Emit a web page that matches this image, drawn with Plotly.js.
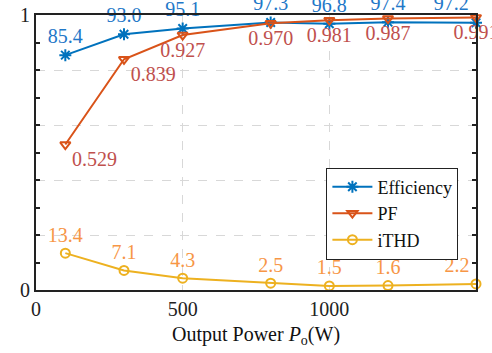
<!DOCTYPE html>
<html><head><meta charset="utf-8">
<script src="https://cdn.plot.ly/plotly-3.0.1.min.js"></script>
<style>html,body{margin:0;padding:0;background:#fff}#c{width:492px;height:353px}</style>
</head><body><div id="c"></div>
<script>
const power = [100, 300, 500, 800, 1000, 1200, 1500];
const efficiencyPct = [85.4, 93.0, 95.1, 97.3, 96.8, 97.4, 97.2];
const pf = [0.529, 0.839, 0.927, 0.970, 0.981, 0.987, 0.991];
const ithdPct = [13.4, 7.1, 4.3, 2.5, 1.5, 1.6, 2.2];
const seriesNames = ['Efficiency', 'PF', 'iTHD'];

const font = 'Liberation Serif';
const traces = [
  {x: power, y: efficiencyPct.map(v => v / 100), name: seriesNames[0], mode: 'lines+markers+text',
   text: efficiencyPct.map(v => v.toFixed(1)),
   textposition: ['top center','top center','top center','top center','top center','top center','top left'],
   textfont: {family: font, size: 20, color: '#1f78c8'},
   line: {color: '#0072BD', width: 2}, marker: {symbol: 'asterisk-open', size: 10, color: '#0072BD', line: {width: 2, color: '#0072BD'}},
   cliponaxis: false},
  {x: power, y: pf, name: seriesNames[1], mode: 'lines+markers+text',
   text: pf.map(v => v.toFixed(3)),
   textposition: ['bottom right','bottom right','bottom center','bottom center','bottom center','bottom center','bottom center'],
   textfont: {family: font, size: 20, color: '#C0504D'},
   line: {color: '#D95319', width: 2}, marker: {symbol: 'triangle-down-open', size: 9, color: '#D95319', line: {width: 2, color: '#D95319'}},
   cliponaxis: false},
  {x: power, y: ithdPct.map(v => v / 100), name: seriesNames[2], mode: 'lines+markers+text',
   text: ithdPct.map(v => v.toFixed(1)),
   textposition: ['top center','top center','top center','top center','top center','top center','top left'],
   textfont: {family: font, size: 20, color: '#F79646'},
   line: {color: '#EDB120', width: 2}, marker: {symbol: 'circle-open', size: 9, color: '#EDB120', line: {width: 2, color: '#EDB120'}},
   cliponaxis: false}
];
const layout = {
  width: 492, height: 353,
  margin: {l: 36, r: 16, t: 15, b: 63},
  paper_bgcolor: '#fff', plot_bgcolor: '#fff',
  font: {family: font, size: 20, color: '#222'},
  showlegend: true,
  legend: {x: 0.96, xanchor: 'right', y: 0.445, yanchor: 'top', bgcolor: '#fff', bordercolor: '#222', borderwidth: 1,
    font: {family: font, size: 18, color: '#111'}, tracegroupgap: 0, itemwidth: 40},
  xaxis: {range: [0, 1500], tickvals: [0, 500, 1000, 1500], showline: true, linecolor: '#222', linewidth: 2, mirror: true,
    showgrid: true, gridcolor: '#d8d8d8', griddash: 'dash', gridwidth: 1, zeroline: false, ticks: '',
    tickfont: {family: font, size: 20, color: '#222'},
    title: {text: 'Output Power <i>P</i><sub>o</sub>(W)', font: {family: font, size: 20, color: '#111'}, standoff: 8}},
  yaxis: {range: [0, 1], tickvals: [0, 0.2, 0.4, 0.6, 0.8, 1], ticktext: ['0', '', '', '', '', '1'],
    showline: true, linecolor: '#222', linewidth: 2, mirror: 'allticks', ticks: 'inside', ticklen: 4, tickcolor: '#222', tickwidth: 2,
    minor: {dtick: 0.1, ticks: 'inside', ticklen: 4, tickcolor: '#222', tickwidth: 2, showgrid: false},
    showgrid: true, gridcolor: '#d8d8d8', griddash: 'dash', gridwidth: 1, zeroline: false,
    tickfont: {family: font, size: 20, color: '#222'}}
};
Plotly.newPlot('c', traces, layout, {displayModeBar: false, staticPlot: true});
</script></body></html>
